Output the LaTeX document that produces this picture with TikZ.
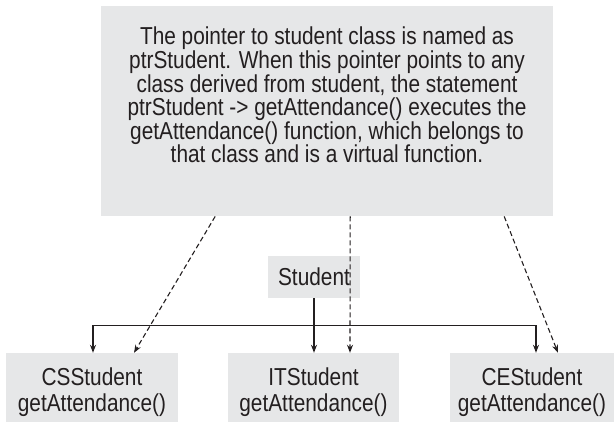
\documentclass[tikz,border=0pt]{standalone}
\usepackage{fontspec}
\setmainfont[FakeStretch=0.85]{Liberation Sans}
\usetikzlibrary{arrows.meta}
\definecolor{boxgray}{HTML}{E6E7E8}
\definecolor{ink}{HTML}{231F20}
\begin{document}
\begin{tikzpicture}[x=1pt,y=-1pt,
  box/.style={fill=boxgray,draw=none,inner sep=0pt,align=center,text=ink,
    font=\fontsize{24.5}{26}\selectfont},
  conn/.style={draw=ink,line width=1.1pt,-{Stealth[length=8pt,width=6pt]}},
  dconn/.style={conn,dash pattern=on 5pt off 3pt}]
\useasboundingbox (0,0) rectangle (614,422);
\node[box,anchor=north west,minimum width=452pt,minimum height=210pt] (top) at (101,6) {};
\node[anchor=north,inner sep=0pt,align=center,text=ink,font=\fontsize{24.5}{23.6}\selectfont] (toptext) at (327,27)
 {The pointer to student class is named as\\
  ptrStudent. When this pointer points to any\\
  class derived from student, the statement\\
  ptrStudent -> getAttendance() executes the\\
  getAttendance() function, which belongs to\\
  that class and is a virtual function.};
\node[box,minimum width=92pt,minimum height=42pt,text height=23pt,text depth=5pt] (student) at (314,277) {Student};
\node[box,minimum width=172pt,minimum height=69pt,text height=48pt,text depth=0pt] (cs) at (92,387.5) {CSStudent\\getAttendance()};
\node[box,minimum width=171pt,minimum height=69pt,text height=48pt,text depth=0pt] (it) at (313.5,387.5) {ITStudent\\getAttendance()};
\node[box,minimum width=164pt,minimum height=69pt,text height=48pt,text depth=0pt] (ce) at (532,387.5) {CEStudent\\getAttendance()};
\coordinate (bus) at (0,325.5);
\coordinate (csin) at ([xshift=1pt]cs.north);
\coordinate (cein) at ([xshift=4pt]ce.north);
\draw[conn,{Stealth[length=8pt,width=6pt]}-{Stealth[length=8pt,width=6pt]}] (csin) -- (csin |- bus) -- (cein |- bus) -- (cein);
\draw[conn] (student.south) -- (student.south |- it.north);
\draw[dconn] ([xshift=-112pt]top.south) -- ([xshift=42pt]cs.north);
\draw[dconn] ([xshift=23pt]top.south) -- ([xshift=36.5pt]it.north);
\draw[dconn] ([xshift=177pt]top.south) -- ([xshift=26pt]ce.north);
\end{tikzpicture}
\end{document}
